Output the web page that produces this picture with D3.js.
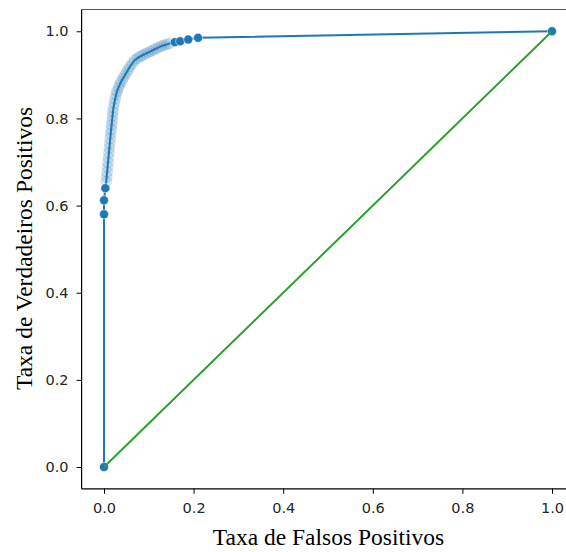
<!DOCTYPE html>
<html><head><meta charset="utf-8">
<script src="https://cdn.jsdelivr.net/npm/d3@7"></script>
<style>html,body{margin:0;padding:0;background:#fff;overflow:hidden}svg{display:block;overflow:hidden}</style>
</head><body>
<svg id="c" width="566" height="552"></svg>
<script>
const fpr = [0.000,0.000,0.000,0.003,0.005,0.006,0.007,0.008,0.009,0.010,0.011,0.012,0.013,0.014,0.015,0.016,0.017,0.018,0.019,0.020,0.021,0.023,0.025,0.027,0.029,0.032,0.035,0.038,0.042,0.046,0.050,0.054,0.058,0.063,0.068,0.074,0.080,0.086,0.092,0.098,0.104,0.110,0.116,0.122,0.128,0.134,0.140,0.146,0.158,0.170,0.188,0.210,1.000];
const tpr = [0.000,0.580,0.612,0.640,0.655,0.666,0.677,0.688,0.699,0.710,0.721,0.732,0.743,0.754,0.765,0.775,0.785,0.795,0.805,0.815,0.825,0.835,0.845,0.854,0.862,0.870,0.877,0.884,0.891,0.898,0.905,0.912,0.919,0.926,0.933,0.938,0.942,0.945,0.948,0.951,0.954,0.957,0.960,0.963,0.966,0.968,0.970,0.972,0.975,0.977,0.981,0.985,1.000];
const diagX = [0, 1];
const diagY = [0, 1];
const xTicks = [0.0, 0.2, 0.4, 0.6, 0.8, 1.0];
const yTicks = [0.0, 0.2, 0.4, 0.6, 0.8, 1.0];
const xLabel = "Taxa de Falsos Positivos";
const yLabel = "Taxa de Verdadeiros Positivos";

const svg = d3.select("#c");
const L = 81.6, R = 574.4, T = 9.5, B = 488.8;
const x = d3.scaleLinear().domain([-0.05, 1.05]).range([L, R]);
const y = d3.scaleLinear().domain([-0.05, 1.05]).range([B, T]);

const pts = fpr.map((v, i) => [v, tpr[i]]);
// local spacing in pixels decides whether markers pile up into a haze
const px = pts.map(d => [x(d[0]), y(d[1])]);
const gap = px.map((p, i) => {
  const ds = [];
  if (i > 0) ds.push(Math.hypot(p[0] - px[i - 1][0], p[1] - px[i - 1][1]));
  if (i < px.length - 1) ds.push(Math.hypot(p[0] - px[i + 1][0], p[1] - px[i + 1][1]));
  return d3.min(ds);
});
const dense = pts.filter((d, i) => gap[i] <= 5);
const sparse = pts.filter((d, i) => gap[i] > 5);

const line = d3.line().x(d => x(d[0])).y(d => y(d[1]));
svg.append("g").selectAll("circle").data(dense).join("circle")
  .attr("cx", d => x(d[0])).attr("cy", d => y(d[1])).attr("r", 5.5)
  .attr("fill", "#1f77b4").attr("fill-opacity", 0.17)
  .attr("stroke", "#1f77b4").attr("stroke-opacity", 0.12).attr("stroke-width", 1);
svg.append("path").datum(pts).attr("d", line)
  .attr("fill", "none").attr("stroke", "#1f77b4").attr("stroke-width", 2);
svg.append("g").selectAll("circle").data(sparse).join("circle")
  .attr("cx", d => x(d[0])).attr("cy", d => y(d[1])).attr("r", 4.5)
  .attr("fill", "#1f77b4").attr("stroke", "#fff").attr("stroke-width", 0.5);

// diagonal
const dpts = diagX.map((v, i) => [v, diagY[i]]);
svg.append("path").datum(dpts).attr("d", line)
  .attr("fill", "none").attr("stroke", "#2ca02c").attr("stroke-width", 2);

// spines
const sp = svg.append("g").attr("stroke", "#000").attr("stroke-width", 1.2);
sp.append("line").attr("x1", L).attr("x2", L).attr("y1", T).attr("y2", B);
sp.append("line").attr("x1", L).attr("x2", R).attr("y1", B).attr("y2", B);
sp.append("line").attr("x1", L).attr("x2", R).attr("y1", T).attr("y2", T).attr("stroke", "#555").attr("stroke-width", 1);

// axes
const xa = svg.append("g").attr("transform", `translate(0,${B})`)
  .call(d3.axisBottom(x).tickValues(xTicks).tickFormat(d3.format(".1f")).tickSize(5).tickPadding(9));
const ya = svg.append("g").attr("transform", `translate(${L},0)`)
  .call(d3.axisLeft(y).tickValues(yTicks).tickFormat(d3.format(".1f")).tickSize(5).tickPadding(8));
[xa, ya].forEach(a => {
  a.select(".domain").remove();
  a.selectAll("line").attr("stroke", "#000").attr("stroke-width", 1);
  a.selectAll("text").attr("font-family", "DejaVu Sans").attr("font-size", 14.5).attr("fill", "#262626");
});

svg.append("text").attr("x", 328.5).attr("y", 545)
  .attr("text-anchor", "middle").attr("font-family", "Liberation Serif").attr("font-size", 23.5)
  .attr("fill", "#000").text(xLabel);
svg.append("text").attr("transform", `translate(32,248.5) rotate(-90)`)
  .attr("text-anchor", "middle").attr("font-family", "Liberation Serif").attr("font-size", 23.5)
  .attr("fill", "#000").text(yLabel);
</script>
</body></html>
